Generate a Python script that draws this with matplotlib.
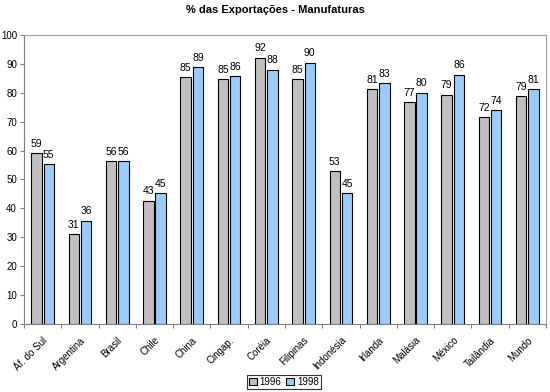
import numpy as np
import matplotlib.pyplot as plt
from matplotlib.ticker import FixedLocator

plt.rcParams['font.family'] = ['Liberation Sans', 'DejaVu Sans']

paises = ["Áf. do Sul", "Argentina", "Brasil", "Chile", "China", "Cingap.", "Coréia",
          "Filipinas", "Indonésia", "Irlanda", "Malásia", "México", "Tailândia", "Mundo"]
v1996 = [59.0, 31.0, 56.3, 42.7, 85.4, 84.7, 92.2, 84.8, 52.8, 81.2, 76.8, 79.3, 71.6, 78.8]
v1998 = [55.2, 35.8, 56.4, 45.2, 88.8, 85.7, 88.0, 90.4, 45.3, 83.4, 80.0, 86.3, 74.0, 81.2]

fig = plt.figure(figsize=(5.5, 3.92), dpi=100)
ax = fig.add_axes([0.0436, 0.1735, 0.9491, 0.7372])

x = np.arange(len(paises))
w = 0.28
b1 = ax.bar(x - 0.165, v1996, w, color="#C0C0C0", edgecolor="black", linewidth=0.8, label="1996")
b2 = ax.bar(x + 0.165, v1998, w, color="#99CCFF", edgecolor="black", linewidth=0.8, label="1998")

for bars, vals in [(b1, v1996), (b2, v1998)]:
    for b, v in zip(bars, vals):
        ax.text(b.get_x() + b.get_width() / 2, v + 1.5, "%d" % round(v),
                ha="center", va="bottom", fontsize=7.5)

ax.set_xlim(-0.5, len(paises) - 0.5)
ax.set_ylim(0, 100)
ax.set_yticks(range(0, 101, 10))
ax.set_xticks(x)
ax.set_xticklabels(paises, rotation=45, ha="right", rotation_mode="anchor", fontsize=7)
ax.tick_params(axis="x", length=0, pad=8)
ax.xaxis.set_minor_locator(FixedLocator(np.arange(-0.5, len(paises), 1)))
ax.tick_params(axis="x", which="minor", length=3, width=0.8, color="#808080")
ax.tick_params(axis="y", labelsize=7, length=3, width=0.8, color="#808080", pad=2)

for s in ["left", "bottom"]:
    ax.spines[s].set_color("#808080")
for s in ["top", "right"]:
    ax.spines[s].set_color("#A0A0A0")
    ax.spines[s].set_linewidth(0.8)

fig.text(0.5, 0.975, "% das Exportações - Manufaturas", ha="center", va="center",
         fontsize=8, fontweight="bold")

leg = fig.legend(loc="center", bbox_to_anchor=(0.516, 0.026), ncol=2, fontsize=7,
                 frameon=True, fancybox=False, edgecolor="black", handlelength=0.8,
                 handleheight=0.8, handletextpad=0.3, columnspacing=0.5,
                 borderpad=0.2, borderaxespad=0)
leg.get_frame().set_linewidth(0.8)

fig.savefig("out.png", dpi=100)
